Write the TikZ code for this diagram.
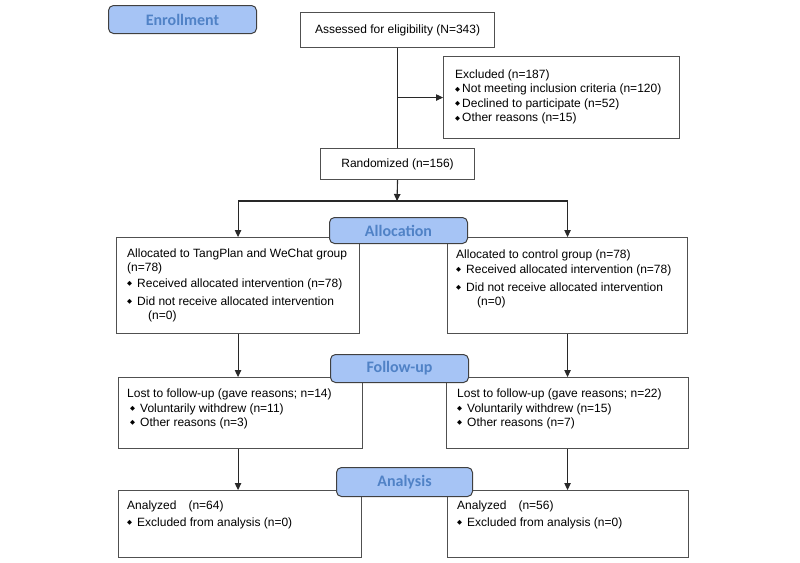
\documentclass[tikz,border=0pt]{standalone}
\usepackage{fontspec}
\usepackage{graphicx}
\setmainfont{Liberation Sans}
\newfontfamily\lblfont{Carlito}
\newfontfamily\djv{DejaVu Sans}
\usetikzlibrary{arrows.meta}
\definecolor{lblfill}{RGB}{166,196,245}
\definecolor{lbltext}{RGB}{80,130,198}
\definecolor{lineclr}{RGB}{40,40,40}
\definecolor{boxclr}{RGB}{80,80,80}
\newcommand\bl[1][10pt]{\makebox[#1][l]{\raisebox{0.3ex}{\djv\fontsize{6.5}{6.5}\selectfont ◆}}}
\begin{document}
\begin{tikzpicture}[x=1pt,y=-1pt,
  box/.style={draw=boxclr, line width=1.1pt, fill=white, inner sep=0pt, anchor=north west},
  phase/.style={draw=black!75, line width=1pt, fill=lblfill, rounded corners=5pt, inner sep=0pt,
    anchor=north west, font=\lblfont\bfseries\fontsize{16}{18}\selectfont, text=lbltext},
  txt/.style={anchor=north west, inner sep=0pt, align=left, font=\fontsize{12}{14.5}\selectfont},
  ctxt/.style={font=\fontsize{12}{14.5}\selectfont},
  arr/.style={-{Triangle[length=7pt,width=6.5pt]}, draw=lineclr, line width=1.1pt},
  ln/.style={draw=lineclr, line width=1.1pt}]
\useasboundingbox (0,0) rectangle (800,562);
\fill[white] (0,0) rectangle (800,562);

% boxes
\node[box, ctxt, minimum width=194pt, minimum height=35pt] (assess) at (300,12) {Assessed for eligibility (N=343)};
\node[box, minimum width=236pt, minimum height=82pt] (excl) at (443,56) {};
\node[box, ctxt, minimum width=154pt, minimum height=31pt] (rand) at (320,148) {Randomized (n=156)};
\node[box, minimum width=243pt, minimum height=96pt] (allocL) at (116,237) {};
\node[box, minimum width=240pt, minimum height=96pt] (allocR) at (447,237) {};
\node[box, minimum width=244pt, minimum height=71pt] (fuL) at (118,377) {};
\node[box, minimum width=242pt, minimum height=71pt] (fuR) at (446,377) {};
\node[box, minimum width=243pt, minimum height=67pt] (anL) at (118,490) {};
\node[box, minimum width=241pt, minimum height=67pt] (anR) at (447,490) {};

% box texts
\node[txt] (excltxt) at (455,69.6) {Excluded (n=187)\\
  \bl[7pt]Not meeting inclusion criteria (n=120)\\
  \bl[7pt]Declined to participate (n=52)\\
  \bl[7pt]Other reasons (n=15)};
\node[txt, font=\fontsize{12}{14}\selectfont] (allocLtxt) at (127,248.6) {Allocated to TangPlan and WeChat group\\
  (n=78)\\[2pt]
  \bl Received allocated intervention (n=78)\\[4pt]
  \bl Did not receive allocated intervention\\
  \hspace*{21pt}(n=0)};
\node[txt, font=\fontsize{12}{14}\selectfont] (allocRtxt) at (456,249.6) {Allocated to control group (n=78)\\[1pt]
  \bl Received allocated intervention (n=78)\\[4pt]
  \bl Did not receive allocated intervention\\
  \hspace*{21pt}(n=0)};
\node[txt] (fuLtxt) at (127,388.6) {Lost to follow-up (gave reasons; n=14)\\
  \hspace*{3pt}\bl Voluntarily withdrew (n=11)\\
  \hspace*{3pt}\bl Other reasons (n=3)};
\node[txt] (fuRtxt) at (457,388.6) {Lost to follow-up (gave reasons; n=22)\\
  \bl Voluntarily withdrew (n=15)\\
  \bl Other reasons (n=7)};
\node[txt] (anLtxt) at (127,500.6) {Analyzed\hspace*{12pt}(n=64)\\[2.5pt]
  \bl Excluded from analysis (n=0)};
\node[txt] (anRtxt) at (457,500.6) {Analyzed\hspace*{12pt}(n=56)\\[2.5pt]
  \bl Excluded from analysis (n=0)};

% connectors
\coordinate (split) at (397,201);
\draw[ln] (assess.south) -- (rand.north);
\draw[arr] (excl.west -| assess.south) -- (excl.west);
\draw[arr] (rand.south) -- (split);
\draw[arr] (split) -| (allocL.north);
\draw[arr] (split) -| (allocR.north);
\draw[arr] (allocL.south) -- (allocL.south |- fuL.north);
\draw[arr] (allocR.south) -- (allocR.south |- fuR.north);
\draw[arr] (allocL.south |- fuL.south) -- (allocL.south |- anL.north);
\draw[arr] (allocR.south |- fuR.south) -- (allocR.south |- anR.north);

% phase labels
\node[phase, minimum width=148pt, minimum height=28pt] (enroll) at (108,5) {Enrollment};
\node[phase, minimum width=138pt, minimum height=26pt] (alloc) at (329,217) {Allocation};
\node[phase, minimum width=138pt, minimum height=28pt] (follow) at (330,354) {Follow-up};
\node[phase, minimum width=136pt, minimum height=29pt] (analysis) at (336,467) {Analysis};
\end{tikzpicture}
\end{document}
